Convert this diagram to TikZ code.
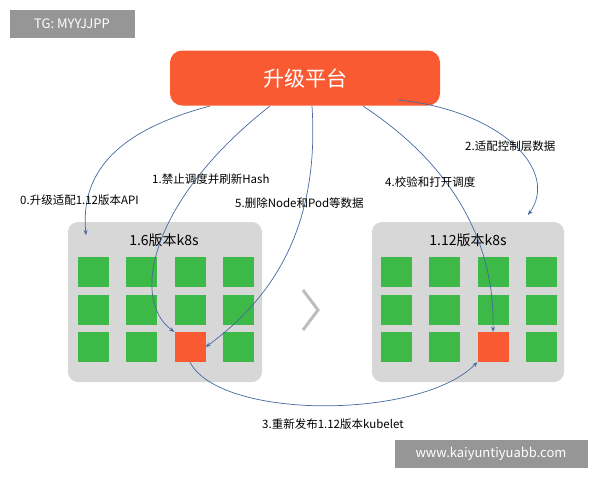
\documentclass[tikz,border=0pt]{standalone}
\usepackage{fontspec}
\setmainfont{Noto Sans CJK SC}
\usetikzlibrary{arrows.meta}
\definecolor{arrc}{RGB}{70,105,160}
\definecolor{grnc}{RGB}{60,185,70}
\definecolor{orgc}{RGB}{250,90,50}
\definecolor{panc}{RGB}{215,215,215}
\definecolor{wmc}{RGB}{150,150,150}
\definecolor{chev}{RGB}{190,190,190}
\begin{document}
\begin{tikzpicture}[x=1pt,y=-1pt,
  lab/.style={font=\fontsize{11.5}{13}\selectfont,anchor=west,inner sep=0},
  arr/.style={draw=arrc,line width=0.7pt,-{Stealth[length=5pt,width=4pt]}},
  grn/.style={fill=grnc,draw=none,minimum width=31pt,minimum height=30pt,inner sep=0},
  org/.style={fill=orgc,draw=none,minimum width=31pt,minimum height=30pt,inner sep=0},
  panel/.style={fill=panc,rounded corners=10pt},
  wm/.style={fill=wmc,text=white,font=\fontsize{13}{15}\selectfont,inner sep=0}]
\useasboundingbox (0,0) rectangle (600,480);
\fill[white] (0,0) rectangle (600,480);
\node[wm,minimum width=125pt,minimum height=28pt] (wm1) at (72,24) {TG: MYYJJPP};
\node[wm,minimum width=193pt,minimum height=28pt] (wm2) at (491,454) {www.kaiyuntiyuabb.com};
\node[fill=orgc,rounded corners=12pt,minimum width=270pt,minimum height=55pt,text=white,font=\fontsize{21}{23}\selectfont] (top) at (305,78) {升级平台};
\fill[panel] (68,222) rectangle (262,382);
\fill[panel] (372,222) rectangle (564,382);
\node[font=\fontsize{14}{16}\selectfont] (t1) at (164,240) {1.6版本k8s};
\node[font=\fontsize{14}{16}\selectfont] (t2) at (468,240) {1.12版本k8s};
\foreach \c/\x in {1/93,2/141,3/190,4/238}{
 \foreach \r/\y in {1/272,2/310,3/347}{
  \node[grn] (L\c\r) at (\x,\y) {};
 }}
\foreach \c/\x in {1/396,2/444,3/493,4/541}{
 \foreach \r/\y in {1/272,2/310,3/347}{
  \node[grn] (R\c\r) at (\x,\y) {};
 }}
\node[org] (LO) at (190,347) {};
\node[org] (RO) at (493,347) {};
\draw[chev,line width=3pt] (303,290) -- (318,310) -- (303,330);
\coordinate (s0) at (210,106);
\coordinate (s1) at (270,106);
\coordinate (s5) at (312,106);
\coordinate (s4) at (363,106);
\coordinate (s2) at (398,100);
\coordinate (a0) at (86,235);
\coordinate (a2) at (528,215);
\draw[arr] (s0) .. controls (120,130) and (80,170) .. (a0);
\draw[arr] (s1) .. controls (150,200) and (130,300) .. (LO.north west);
\draw[arr] (s5) .. controls (320,230) and (270,300) .. (LO.east);
\draw[arr] (s4) .. controls (460,170) and (495,250) .. (RO.north);
\draw[arr] (s2) .. controls (500,110) and (560,170) .. (a2);
\draw[arr] (LO.south) .. controls (220,420) and (420,420) .. (RO.south west);
\node[lab] (l0) at (20,200) {0.升级适配1.12版本API};
\node[lab] (l1) at (152,179) {1.禁止调度并刷新Hash};
\node[lab] (l5) at (235,203) {5.删除Node和Pod等数据};
\node[lab] (l4) at (385,182) {4.校验和打开调度};
\node[lab] (l2) at (465,146) {2.适配控制层数据};
\node[lab] (l3) at (262,424) {3.重新发布1.12版本kubelet};
\end{tikzpicture}
\end{document}
